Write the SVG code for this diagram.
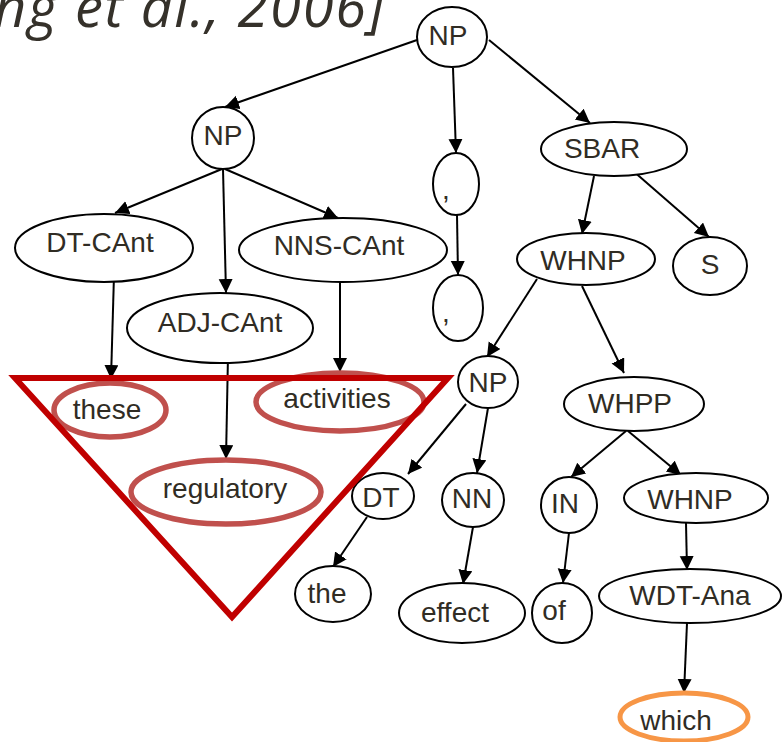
<svg xmlns="http://www.w3.org/2000/svg" width="782" height="742" viewBox="0 0 782 742">
<defs>
<marker id="arr" markerUnits="userSpaceOnUse" markerWidth="15" markerHeight="15" refX="14" refY="7" orient="auto">
<path d="M0,0 L14,7 L0,14 z" fill="#000"/>
</marker>
</defs>
<style>
.n ellipse{fill:#fff;stroke:#000;stroke-width:2}
.n.hl ellipse{stroke:#c0504d;stroke-width:5.5}
.n.or ellipse{stroke:#f79646;stroke-width:5}
text{font-family:"Liberation Sans",Arial,sans-serif;font-size:28px;fill:#302c24;text-anchor:middle}
#edges line{stroke:#000;stroke-width:2;marker-end:url(#arr)}
.title{font-family:"Open Sans","Noto Sans",sans-serif;font-style:italic;font-size:56px;fill:#35312a;text-anchor:start}
</style>
<rect width="782" height="742" fill="#fff"/>
<text class="title" x="-6" y="27" textLength="390" lengthAdjust="spacing">ng et al., 2006]</text>
<g id="edges">
<line x1="417" y1="40" x2="225" y2="107"/>
<line x1="453" y1="68" x2="456" y2="153"/>
<line x1="489" y1="40" x2="590" y2="123"/>
<line x1="222" y1="169" x2="115" y2="213"/>
<line x1="223" y1="169" x2="226" y2="293"/>
<line x1="225" y1="169" x2="338" y2="218"/>
<line x1="114" y1="275" x2="111" y2="379"/>
<line x1="228" y1="355" x2="226" y2="459"/>
<line x1="340" y1="281" x2="340" y2="372"/>
<line x1="457" y1="215" x2="458" y2="275"/>
<line x1="594" y1="176" x2="582" y2="234"/>
<line x1="632" y1="170" x2="709" y2="237"/>
<line x1="537" y1="279" x2="487" y2="357"/>
<line x1="582" y1="286" x2="624" y2="373"/>
<line x1="466" y1="404" x2="408" y2="474"/>
<line x1="488" y1="408" x2="477" y2="473"/>
<line x1="367" y1="517" x2="333" y2="567"/>
<line x1="473" y1="527" x2="463" y2="584"/>
<line x1="626" y1="431" x2="571" y2="477"/>
<line x1="628" y1="431" x2="681" y2="475"/>
<line x1="569" y1="533" x2="563" y2="583"/>
<line x1="686" y1="523" x2="687" y2="570"/>
<line x1="687" y1="623" x2="684" y2="693"/>
</g>
<g id="np-top" class="n"><ellipse cx="452" cy="37" rx="35" ry="30"/><text x="448" y="45">NP</text></g>
<g id="np-left" class="n"><ellipse cx="223" cy="138" rx="31" ry="31"/><text x="223" y="145">NP</text></g>
<g id="comma1" class="n"><ellipse cx="456" cy="184" rx="23" ry="31"/><text x="446" y="199">,</text></g>
<g id="comma2" class="n"><ellipse cx="458" cy="308" rx="25" ry="33"/><text x="446" y="322">,</text></g>
<g id="sbar" class="n"><ellipse cx="614" cy="149" rx="73" ry="27"/><text x="602" y="158">SBAR</text></g>
<g id="whnp" class="n"><ellipse cx="586" cy="259" rx="69" ry="26"/><text x="583" y="270">WHNP</text></g>
<g id="s" class="n"><ellipse cx="710" cy="266" rx="37" ry="29"/><text x="710" y="274">S</text></g>
<g id="whpp" class="n"><ellipse cx="634" cy="404" rx="70" ry="27"/><text x="630" y="413">WHPP</text></g>
<g id="dt-cant" class="n"><ellipse cx="104" cy="248" rx="89" ry="34"/><text x="100" y="252">DT-CAnt</text></g>
<g id="nns-cant" class="n"><ellipse cx="343" cy="250" rx="104" ry="32"/><text x="339" y="255">NNS-CAnt</text></g>
<g id="adj-cant" class="n"><ellipse cx="220" cy="328" rx="93" ry="35"/><text x="220" y="332">ADJ-CAnt</text></g>
<g id="these" class="n hl"><ellipse cx="110" cy="410" rx="56" ry="27"/><text x="107" y="419">these</text></g>
<g id="activities" class="n hl"><ellipse cx="340" cy="402" rx="84" ry="29"/><text x="337" y="408">activities</text></g>
<g id="regulatory" class="n hl"><ellipse cx="226" cy="492" rx="95" ry="32"/><text x="225" y="498">regulatory</text></g>
<g id="np-mid" class="n"><ellipse cx="488" cy="382" rx="30" ry="26"/><text x="488" y="392">NP</text></g>
<g id="dt" class="n"><ellipse cx="383" cy="496" rx="31" ry="23"/><text x="381" y="507">DT</text></g>
<g id="nn" class="n"><ellipse cx="473" cy="500" rx="31" ry="27"/><text x="472" y="508">NN</text></g>
<g id="the" class="n"><ellipse cx="333" cy="594" rx="38" ry="28"/><text x="327" y="603">the</text></g>
<g id="effect" class="n"><ellipse cx="462" cy="613" rx="63" ry="30"/><text x="455" y="622">effect</text></g>
<g id="of" class="n"><ellipse cx="562" cy="613" rx="30" ry="30"/><text x="554" y="620">of</text></g>
<g id="in" class="n"><ellipse cx="569" cy="505" rx="28" ry="28"/><text x="565" y="513">IN</text></g>
<g id="whnp2" class="n"><ellipse cx="696" cy="498" rx="72" ry="25"/><text x="690" y="509">WHNP</text></g>
<g id="wdt-ana" class="n"><ellipse cx="690" cy="596" rx="91" ry="27"/><text x="690" y="605">WDT-Ana</text></g>
<g id="which" class="n or"><ellipse cx="684" cy="717" rx="64" ry="24"/><text x="676" y="730">which</text></g>
<polygon id="triangle" points="15,378 448,378 232,617" fill="none" stroke="#c00000" stroke-width="6" stroke-linejoin="miter"/>
</svg>
